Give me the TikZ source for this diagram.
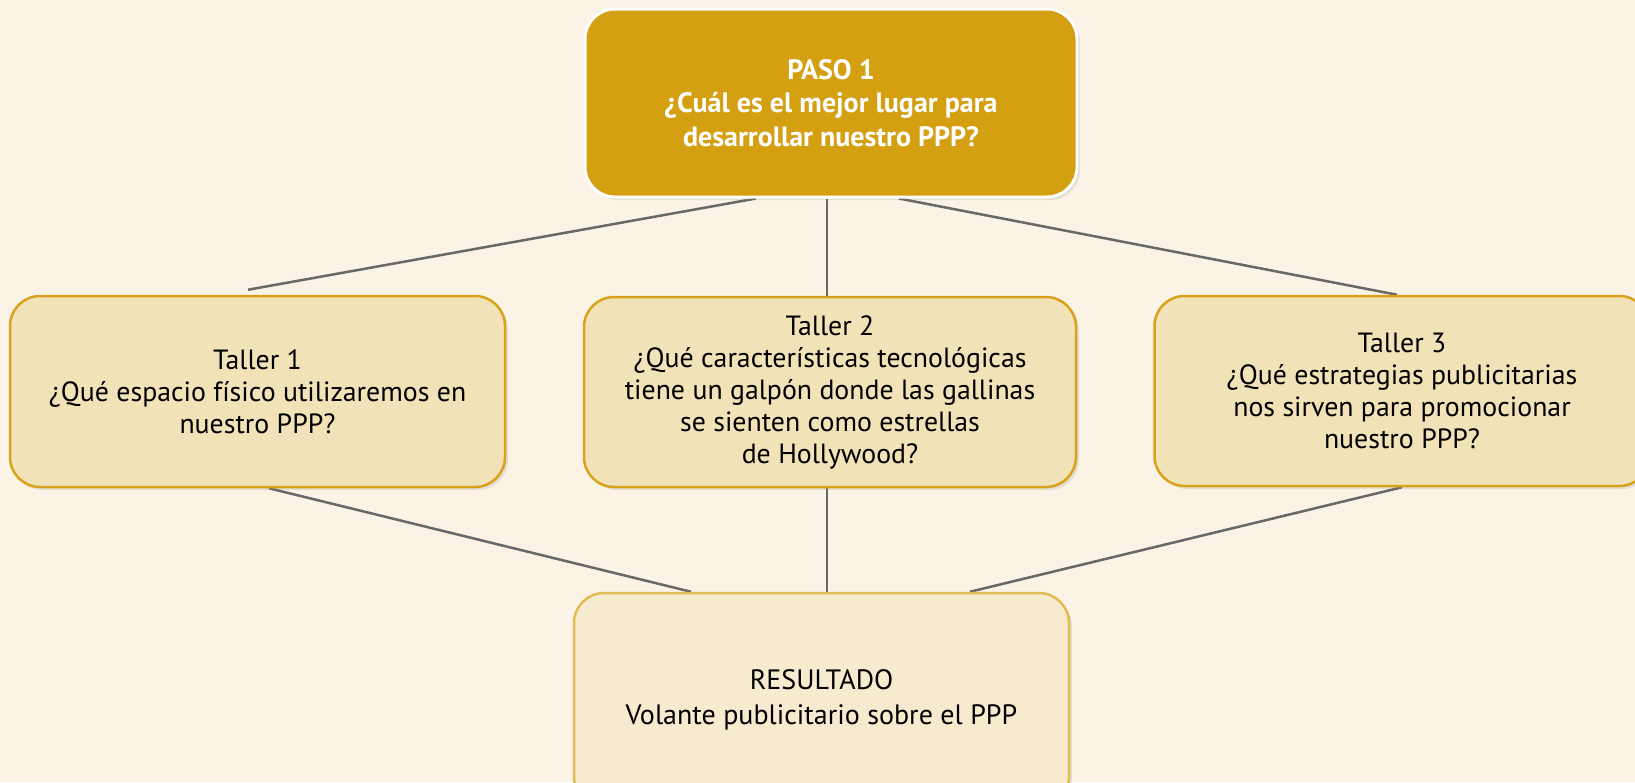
\documentclass[tikz,border=0pt]{standalone}
\usepackage{fontspec}
\setmainfont{PT Sans}
\usetikzlibrary{calc,shadows}
\pgfdeclarelayer{back}
\pgfdeclarelayer{mid}
\pgfsetlayers{back,mid,main}
\definecolor{bgc}{HTML}{FBF4E6}
\definecolor{topfill}{HTML}{D4A011}
\definecolor{tfill}{HTML}{F1E2B7}
\definecolor{tdraw}{HTML}{D9A21C}
\definecolor{rfill}{HTML}{F6EACF}
\definecolor{rdraw}{HTML}{E2BB55}
\definecolor{linec}{HTML}{686868}
\tikzset{
  boxbase/.style={rectangle, rounded corners=30pt, align=center, inner sep=0pt,
    drop shadow={opacity=0.18, shadow xshift=3pt, shadow yshift=-3pt}},
  topbox/.style={boxbase, fill=topfill, draw=white, line width=3pt, text=white,
    font=\fontsize{28}{33.5}\selectfont\bfseries},
  tallerbox/.style={boxbase, fill=tfill, draw=tdraw, line width=2.5pt, text=black,
    font=\fontsize{27.8}{32}\selectfont},
  resbox/.style={boxbase, fill=rfill, draw=rdraw, line width=2.5pt, text=black,
    font=\fontsize{28}{34.5}\selectfont},
  conn/.style={draw=linec, line width=2.5pt}
}
\begin{document}
\begin{tikzpicture}[x=1pt,y=-1pt]
\begin{pgfonlayer}{back}
\fill[bgc] (0,0) rectangle (1635,782);
\end{pgfonlayer}
\useasboundingbox (0,0) rectangle (1635,782);

\node[topbox, minimum width=492pt, minimum height=188pt] (paso) at (831,103)
  {PASO 1\\¿Cuál es el mejor lugar para\\desarrollar nuestro PPP?};
\node[tallerbox, minimum width=495pt, minimum height=191pt] (t1) at (257.5,391.5)
  {Taller 1\\¿Qué espacio físico utilizaremos en\\nuestro PPP?};
\node[tallerbox, minimum width=492pt, minimum height=190pt] (t2) at (830,392)
  {Taller 2\\¿Qué características tecnológicas\\tiene un galpón donde las gallinas\\se sienten como estrellas\\de Hollywood?};
\node[tallerbox, minimum width=495pt, minimum height=190pt] (t3) at (1402,391)
  {Taller 3\\¿Qué estrategias publicitarias\\nos sirven para promocionar\\nuestro PPP?};
\node[resbox, minimum width=495pt, minimum height=214pt] (res) at (821.5,700)
  {RESULTADO\\Volante publicitario sobre el PPP};

\coordinate (a1) at ($(paso.south)+(-75,0)$);
\coordinate (a2) at ($(paso.south)+(-4,0)$);
\coordinate (a3) at ($(paso.south)+(68,0)$);
\coordinate (b1) at ($(t1.north)+(-9.5,-5)$);
\coordinate (b2) at ($(t2.north)+(-3,0)$);
\coordinate (b3) at ($(t3.north)+(-5,0)$);
\coordinate (c1) at ($(t1.south)+(11.5,0)$);
\coordinate (c2) at ($(t2.south)+(-3,0)$);
\coordinate (c3) at ($(t3.south)+(0,0)$);
\coordinate (d1) at ($(res.north)+(-130.5,0)$);
\coordinate (d2) at ($(res.north)+(5.5,0)$);
\coordinate (d3) at ($(res.north)+(148.5,0)$);

\begin{pgfonlayer}{mid}
\draw[conn] (a1) -- (b1);
\draw[conn] (a2) -- (b2);
\draw[conn] (a3) -- (b3);
\draw[conn] (c1) -- (d1);
\draw[conn] (c2) -- (d2);
\draw[conn] (c3) -- (d3);
\end{pgfonlayer}
\end{tikzpicture}
\end{document}
